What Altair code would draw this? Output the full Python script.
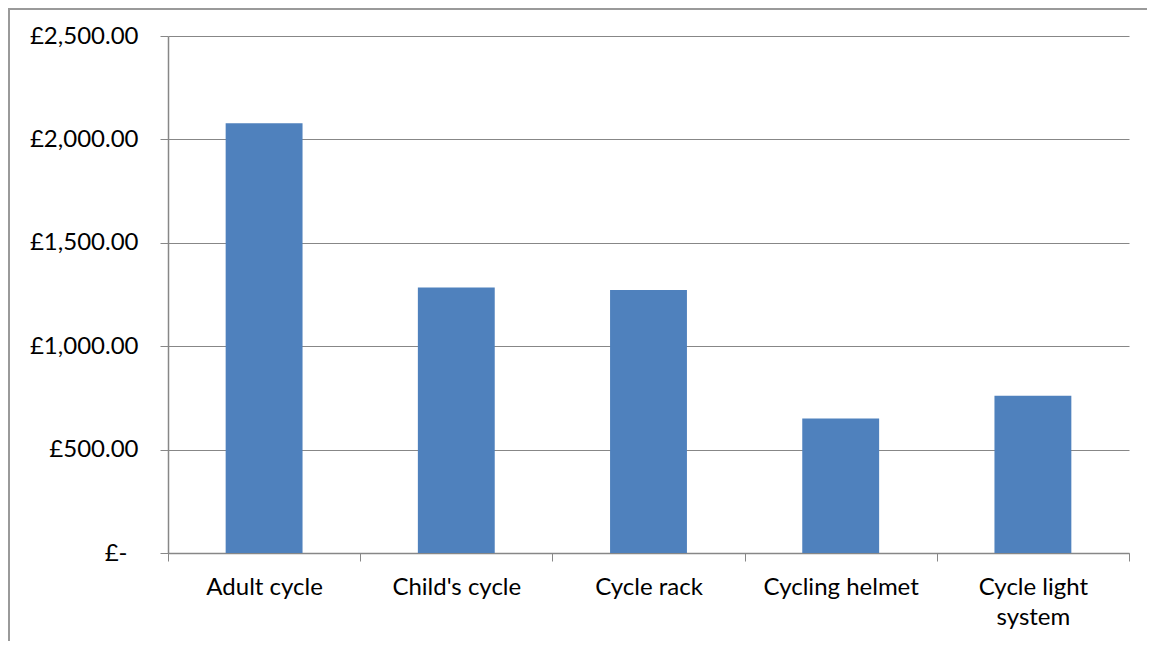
import altair as alt
import pandas as pd

categories = ["Adult cycle", "Child's cycle", "Cycle rack", "Cycling helmet", "Cycle light system"]
values = [2078, 1284, 1272, 650, 760]
y_ticks = [0, 500, 1000, 1500, 2000, 2500]

df = pd.DataFrame({"item": categories, "cost": values})

FONT = "Lato"
GREY = "#878787"

bars = alt.Chart(df).mark_bar(color="#4F81BD", width={"band": 0.4}).encode(
    x=alt.X(
        "item:N",
        sort=categories,
        title=None,
        scale=alt.Scale(paddingInner=0, paddingOuter=0),
        axis=alt.Axis(
            labelAngle=0,
            labelFont=FONT,
            labelFontSize=24,
            labelColor="#000000",
            labelPadding=14,
            labelLineHeight=30,
            labelExpr="datum.label == 'Cycle light system' ? ['Cycle light', 'system'] : datum.label",
            tickBand="extent",
            tickSize=8,
            tickColor=GREY,
            domainColor=GREY,
            domainWidth=1.5,
            grid=False,
        ),
    ),
    y=alt.Y(
        "cost:Q",
        title=None,
        scale=alt.Scale(domain=[0, 2500], nice=False),
        axis=alt.Axis(
            values=y_ticks,
            labelFont=FONT,
            labelFontSize=24,
            labelColor="#000000",
            labelPadding={"condition": {"test": "datum.value == 0", "value": 33}, "value": 22},
            labelExpr="datum.value == 0 ? '£-' : '£' + format(datum.value, ',.2f')",
            tickSize=8,
            tickColor=GREY,
            domainColor=GREY,
            domainWidth=1.5,
            gridColor=GREY,
            gridWidth=1.2,
        ),
    ),
)

border = alt.Chart(pd.DataFrame({"b": [0]})).mark_rect(
    fill=None, stroke="#9a9a9a", strokeWidth=2
).encode(
    x=alt.value(-159), x2=alt.value(1300),
    y=alt.value(-27), y2=alt.value(800),
)

chart = alt.layer(border, bars).properties(
    width=961,
    height=517,
    padding={"left": 160, "top": 28, "right": 18, "bottom": 88},
    autosize=alt.AutoSizeParams(type="none"),
    background="white",
).configure_view(stroke=None)

chart.save("out.html", embed_options={"renderer": "svg", "actions": False})
